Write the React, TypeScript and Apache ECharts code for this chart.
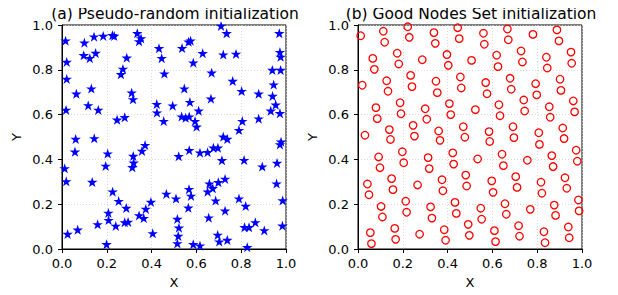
import React, { useEffect, useRef } from "react";
import * as echarts from "echarts";

const titles = ["(a) Pseudo-random initialization", "(b) Good Nodes Set initialization"];

// (a) pseudo-random points
const randX = [
  0.016, 0.100, 0.143, 0.184, 0.225, 0.233, 0.336, 0.353, 0.344, 0.433, 0.445, 0.457, 0.097, 0.124, 0.150, 0.021,
  0.289, 0.272, 0.263, 0.021, 0.064, 0.131, 0.311, 0.317, 0.117, 0.162, 0.018, 0.246, 0.280, 0.423, 0.424, 0.454,
  0.494, 0.061, 0.144,
  0.058, 0.204, 0.371, 0.357, 0.318, 0.320, 0.314, 0.012, 0.195, 0.019, 0.135, 0.226, 0.253, 0.287, 0.207, 0.208,
  0.240, 0.280, 0.295, 0.159, 0.070, 0.025, 0.199, 0.344, 0.365, 0.374, 0.397, 0.405, 0.466,
  0.710, 0.735, 0.970, 0.565, 0.574, 0.536, 0.628, 0.720, 0.777, 0.973, 0.976, 0.586, 0.668, 0.939, 0.976, 0.762,
  0.945, 0.546, 0.802, 0.878, 0.940, 0.665, 0.571, 0.954, 0.610, 0.932, 0.973, 0.534, 0.552, 0.568, 0.594, 0.601,
  0.805, 0.878, 0.790,
  0.720, 0.738, 0.978, 0.973, 0.521, 0.568, 0.616, 0.650, 0.676, 0.696, 0.714, 0.813, 0.894, 0.960, 0.958, 0.728,
  0.698, 0.658, 0.673, 0.650, 0.567, 0.576, 0.509, 0.686, 0.790, 0.820, 0.985, 0.564, 0.728, 0.515, 0.655, 0.522,
  0.815, 0.835, 0.863, 0.903, 0.984, 0.519, 0.515, 0.586, 0.616, 0.695, 0.702, 0.738, 0.827,
];
const randY = [
  0.930, 0.921, 0.948, 0.951, 0.954, 0.951, 0.963, 0.940, 0.927, 0.896, 0.852, 0.783, 0.865, 0.852, 0.875, 0.835,
  0.854, 0.804, 0.780, 0.759, 0.693, 0.716, 0.698, 0.668, 0.641, 0.621, 0.621, 0.577, 0.588, 0.647, 0.609, 0.571,
  0.640, 0.491, 0.494,
  0.434, 0.426, 0.464, 0.438, 0.415, 0.385, 0.365, 0.360, 0.371, 0.302, 0.299, 0.256, 0.214, 0.183, 0.161, 0.129,
  0.103, 0.119, 0.121, 0.110, 0.086, 0.067, 0.021, 0.150, 0.138, 0.179, 0.210, 0.070, 0.246,
  0.996, 0.963, 0.963, 0.925, 0.930, 0.897, 0.874, 0.868, 0.871, 0.879, 0.858, 0.832, 0.787, 0.799, 0.799, 0.750,
  0.734, 0.716, 0.705, 0.693, 0.683, 0.671, 0.656, 0.644, 0.617, 0.617, 0.606, 0.591, 0.586, 0.591, 0.571, 0.546,
  0.571, 0.582, 0.531,
  0.501, 0.491, 0.479, 0.467, 0.414, 0.441, 0.430, 0.432, 0.452, 0.452, 0.396, 0.397, 0.368, 0.384, 0.292, 0.313,
  0.298, 0.292, 0.271, 0.256, 0.267, 0.237, 0.225, 0.216, 0.225, 0.192, 0.217, 0.184, 0.171, 0.134, 0.140, 0.095,
  0.097, 0.097, 0.119, 0.083, 0.104, 0.058, 0.025, 0.021, 0.015, 0.063, 0.033, 0.040, 0.008,
];

// (b) good nodes set points
const goodX = [
  0.012, 0.113, 0.119, 0.222, 0.229, 0.339, 0.345, 0.445, 0.452, 0.066, 0.073, 0.175, 0.182, 0.287, 0.397, 0.403,
  0.507, 0.019, 0.128, 0.134, 0.235, 0.241, 0.348, 0.354, 0.457, 0.461, 0.188, 0.192, 0.080, 0.086, 0.300, 0.307,
  0.408, 0.414, 0.031, 0.140, 0.145, 0.246, 0.252, 0.360, 0.366, 0.470, 0.477,
  0.092, 0.098, 0.198, 0.204, 0.313, 0.318, 0.423, 0.427, 0.042, 0.049, 0.150, 0.156, 0.266, 0.375, 0.379, 0.481,
  0.485, 0.103, 0.109, 0.213, 0.217, 0.324, 0.330, 0.433, 0.439, 0.055, 0.060, 0.164, 0.168, 0.275, 0.385, 0.391,
  0.492, 0.497,
  0.560, 0.564, 0.667, 0.671, 0.781, 0.888, 0.897, 0.619, 0.625, 0.728, 0.734, 0.841, 0.845, 0.951, 0.954, 0.570,
  0.576, 0.679, 0.684, 0.793, 0.798, 0.902, 0.906, 0.740, 0.744, 0.524, 0.629, 0.634, 0.854, 0.858, 0.961, 0.967,
  0.585, 0.588, 0.692, 0.696, 0.807, 0.914, 0.920,
  0.810, 0.534, 0.643, 0.649, 0.756, 0.865, 0.871, 0.974, 0.979, 0.597, 0.603, 0.704, 0.710, 0.817, 0.821, 0.924,
  0.932, 0.984, 0.987, 0.548, 0.552, 0.656, 0.662, 0.769, 0.876, 0.882, 0.609, 0.614, 0.717, 0.721, 0.830, 0.835,
  0.939, 0.943,
];
const goodY = [
  0.952, 0.972, 0.923, 0.992, 0.945, 0.966, 0.918, 0.988, 0.939, 0.851, 0.802, 0.874, 0.826, 0.845, 0.868, 0.820,
  0.842, 0.731, 0.751, 0.704, 0.775, 0.725, 0.749, 0.698, 0.768, 0.719, 0.653, 0.604, 0.631, 0.582, 0.626, 0.579,
  0.649, 0.600, 0.508, 0.533, 0.489, 0.552, 0.504, 0.527, 0.485, 0.546, 0.499,
  0.411, 0.363, 0.434, 0.385, 0.408, 0.359, 0.429, 0.379, 0.290, 0.242, 0.314, 0.265, 0.286, 0.309, 0.260, 0.330,
  0.281, 0.190, 0.143, 0.213, 0.164, 0.188, 0.138, 0.208, 0.159, 0.073, 0.024, 0.092, 0.043, 0.066, 0.086, 0.039,
  0.110, 0.061,
  0.963, 0.914, 0.982, 0.934, 0.958, 0.978, 0.929, 0.865, 0.814, 0.884, 0.835, 0.856, 0.808, 0.879, 0.829, 0.743,
  0.693, 0.762, 0.713, 0.738, 0.688, 0.758, 0.708, 0.665, 0.616, 0.622, 0.644, 0.595, 0.635, 0.588, 0.661, 0.612,
  0.524, 0.480, 0.546, 0.497, 0.519, 0.540, 0.493,
  0.467, 0.402, 0.423, 0.372, 0.396, 0.417, 0.368, 0.441, 0.392, 0.304, 0.253, 0.323, 0.275, 0.298, 0.249, 0.318,
  0.271, 0.219, 0.170, 0.182, 0.133, 0.202, 0.155, 0.177, 0.196, 0.150, 0.082, 0.033, 0.104, 0.057, 0.077, 0.028,
  0.098, 0.050,
];

const STAR =
  "path://M0,-10L2.245,-3.09L9.511,-3.09L3.633,1.18L5.878,8.09L0,3.82L-5.878,8.09L-3.633,1.18L-9.511,-3.09L-2.245,-3.09Z";

const FONT = "DejaVu Sans";

function makeX(gridIndex: number) {
  return {
    type: "value",
    gridIndex,
    min: 0,
    max: 1,
    interval: 0.2,
    name: "X",
    nameLocation: "middle",
    nameGap: 27,
    nameTextStyle: { fontFamily: FONT, fontSize: 13, color: "#000" },
    axisLine: { show: true, onZero: false, lineStyle: { color: "#000", width: 1 } },
    axisTick: { show: true, inside: false, length: 4, lineStyle: { color: "#000", width: 1 } },
    axisLabel: {
      fontFamily: FONT,
      fontSize: 13,
      color: "#000",
      margin: 8,
      formatter: (v: number) => v.toFixed(1),
    },
    splitLine: { show: true, lineStyle: { color: "#cfcfcf", width: 0.8, type: [1, 2] } },
  };
}

function makeY(gridIndex: number) {
  return {
    type: "value",
    gridIndex,
    min: 0,
    max: 1,
    interval: 0.2,
    name: "Y",
    nameLocation: "middle",
    nameGap: 39,
    nameRotate: 90,
    nameTextStyle: { fontFamily: FONT, fontSize: 13, color: "#000" },
    axisLine: { show: true, onZero: false, lineStyle: { color: "#000", width: 1 } },
    axisTick: { show: true, inside: false, length: 4, lineStyle: { color: "#000", width: 1 } },
    axisLabel: {
      fontFamily: FONT,
      fontSize: 13,
      color: "#000",
      margin: 9,
      formatter: (v: number) => v.toFixed(1),
    },
    splitLine: { show: true, lineStyle: { color: "#cfcfcf", width: 0.8, type: [1, 2] } },
  };
}

export default function App() {
  const ref = useRef<HTMLDivElement>(null);
  useEffect(() => {
    if (!ref.current) return;
    const chart = echarts.init(ref.current, null, { renderer: "svg" });
    const randData = randX.map((x, i) => [x, randY[i]]);
    const goodData = goodX.map((x, i) => [x, goodY[i]]);
    const titleStyle = { fontFamily: FONT, fontSize: 15.5, fontWeight: "normal", color: "#000" };
    chart.setOption({
      animation: false,
      backgroundColor: "#fff",
      title: [
        { text: titles[0], left: 170, top: 1, textAlign: "center", textStyle: titleStyle },
        { text: titles[1], left: 466, top: 1, textAlign: "center", textStyle: titleStyle },
      ],
      grid: [
        { left: 62, top: 25, width: 224, height: 224, show: true, borderColor: "#000", borderWidth: 1, backgroundColor: "transparent" },
        { left: 358, top: 25, width: 224, height: 224, show: true, borderColor: "#000", borderWidth: 1, backgroundColor: "transparent" },
      ],
      xAxis: [makeX(0), makeX(1)],
      yAxis: [makeY(0), makeY(1)],
      series: [
        {
          type: "scatter",
          xAxisIndex: 0,
          yAxisIndex: 0,
          data: randData,
          symbol: STAR,
          symbolSize: [10.5, 10],
          itemStyle: { color: "#0000ff", opacity: 1 },
          emphasis: { disabled: true },
        },
        {
          type: "scatter",
          xAxisIndex: 1,
          yAxisIndex: 1,
          data: goodData,
          symbol: "circle",
          symbolSize: 7.5,
          itemStyle: { color: "rgba(255,255,255,0)", borderColor: "#ff0000", borderWidth: 1.3, opacity: 1 },
          emphasis: { disabled: true },
        },
      ],
    });
    return () => chart.dispose();
  }, []);
  return <div ref={ref} style={{ width: 618, height: 295, margin: "-8px" }} />;
}
